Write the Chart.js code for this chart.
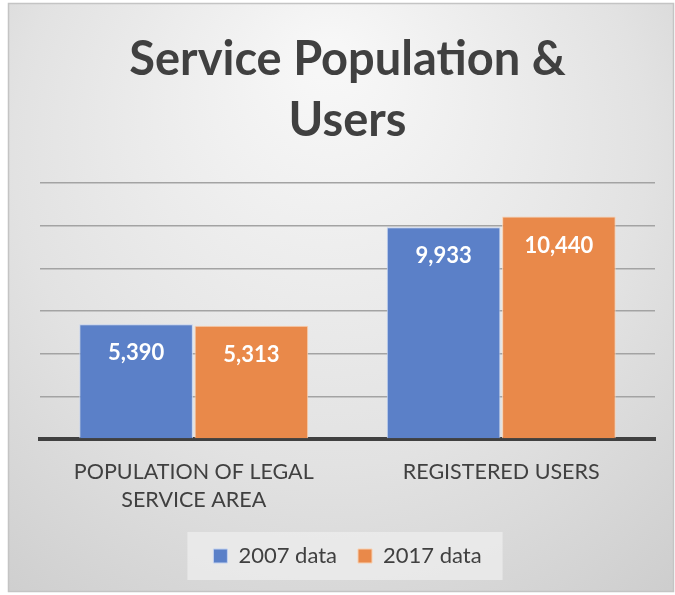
<!DOCTYPE html>
<html>
<head>
<meta charset="utf-8">
<script src="https://cdn.jsdelivr.net/npm/chart.js@4/dist/chart.umd.min.js"></script>
<style>
  html, body { margin: 0; padding: 0; background: #fff; }
  #wrap { width: 675px; height: 595px; }
</style>
</head>
<body>
<div id="wrap"><canvas id="chart"></canvas></div>
<script>
const categories = [["POPULATION OF LEGAL", "SERVICE AREA"], "REGISTERED USERS"];
const seriesNames = ["2007 data", "2017 data"];
const data2007 = [5390, 9933];
const data2017 = [5313, 10440];
const titleLines = ["Service Population &", "Users"];

const FONT = "Lato, 'Open Sans', sans-serif";

// grey radial background with thin border, plus the lighter legend box
const backdrop = {
  id: "backdrop",
  beforeDraw(chart) {
    const ctx = chart.ctx;
    ctx.save();
    ctx.fillStyle = "#ffffff";
    ctx.fillRect(0, 0, chart.width, chart.height);
    const g = ctx.createRadialGradient(330, 60, 20, 330, 220, 560);
    g.addColorStop(0, "#f7f7f7");
    g.addColorStop(0.55, "#e2e2e2");
    g.addColorStop(1, "#c9c9c9");
    ctx.fillStyle = g;
    ctx.fillRect(8, 3, 665, 589);
    ctx.strokeStyle = "#c4c4c4";
    ctx.lineWidth = 1.5;
    ctx.strokeRect(8.5, 3.5, 665, 588);
    const lg = chart.legend;
    if (lg && lg.legendHitBoxes && lg.legendHitBoxes.length) {
      const boxes = lg.legendHitBoxes;
      const l = Math.min(...boxes.map(b => b.left)) - 26;
      const r = Math.max(...boxes.map(b => b.left + b.width)) + 21;
      const cy = boxes[0].top + boxes[0].height / 2;
      ctx.fillStyle = "rgba(238,238,238,0.75)";
      ctx.fillRect(l, cy - 24, r - l, 48);
    }
    ctx.restore();
  }
};

const valueLabels = {
  id: "valueLabels",
  afterDatasetsDraw(chart) {
    const ctx = chart.ctx;
    ctx.save();
    ctx.font = "bold 22px " + FONT;
    ctx.fillStyle = "#ffffff";
    ctx.textAlign = "center";
    ctx.textBaseline = "middle";
    chart.data.datasets.forEach((ds, i) => {
      chart.getDatasetMeta(i).data.forEach((bar, j) => {
        ctx.fillText(ds.data[j].toLocaleString("en-US"), bar.x, bar.y + 29);
      });
    });
    ctx.restore();
  }
};

new Chart(document.getElementById("chart"), {
  type: "bar",
  data: {
    labels: categories,
    datasets: [
      {
        label: seriesNames[0],
        data: data2007,
        backgroundColor: "#5b80c8",
        borderColor: "#c3d2ef",
        borderWidth: 1
      },
      {
        label: seriesNames[1],
        data: data2017,
        backgroundColor: "#e9894a",
        borderColor: "#f8d0b0",
        borderWidth: 1
      }
    ]
  },
  options: {
    responsive: true,
    maintainAspectRatio: false,
    animation: false,
    datasets: { bar: { categoryPercentage: 0.75, barPercentage: 0.985 } },
    layout: { padding: { left: 40, right: 20, top: 3, bottom: 18 } },
    plugins: {
      title: {
        display: true,
        text: titleLines,
        color: "#404040",
        font: { family: FONT, size: 47, weight: "bold", lineHeight: 1.3 },
        padding: { top: 26, bottom: 32 }
      },
      legend: {
        position: "bottom",
        labels: {
          color: "#404040",
          font: { family: FONT, size: 22 },
          boxWidth: 14,
          boxHeight: 14,
          padding: 21
        }
      },
      tooltip: { enabled: false }
    },
    scales: {
      x: {
        grid: { display: false },
        border: { display: true, color: "#404040", width: 4 },
        ticks: {
          color: "#404040",
          font: { family: FONT, size: 21.5, lineHeight: 1.3 },
          maxRotation: 0,
          padding: 11
        },
        afterFit: (s) => { s.height -= 1; }
      },
      y: {
        min: 0,
        max: 12000,
        ticks: { display: false, stepSize: 2000 },
        border: { display: false },
        grid: { color: "#a3a3a3", lineWidth: 1.5, drawTicks: false },
        afterFit: (s) => { s.width = 0; }
      }
    }
  },
  plugins: [backdrop, valueLabels]
});
</script>
</body>
</html>
